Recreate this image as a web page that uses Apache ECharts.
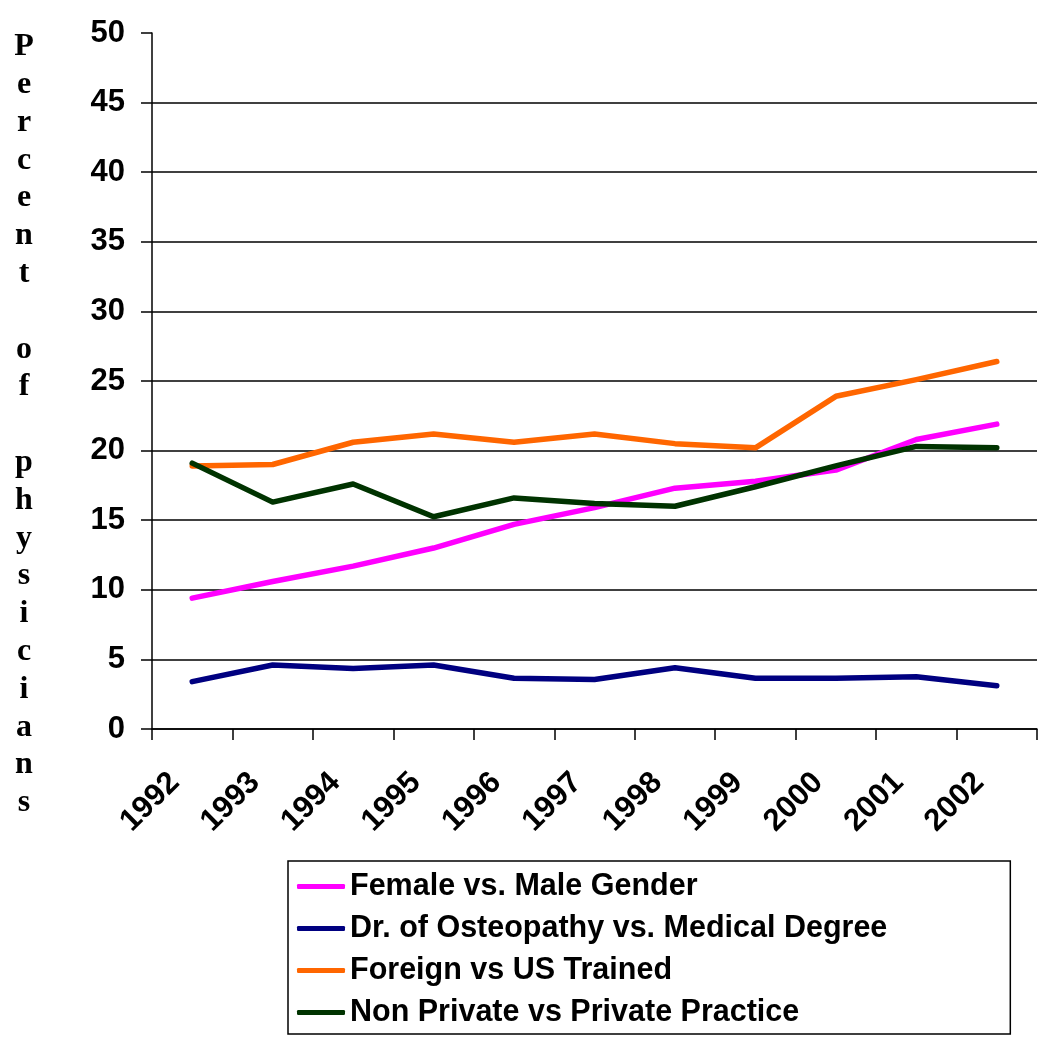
<!DOCTYPE html>
<html>
<head>
<meta charset="utf-8">
<script src="https://cdn.jsdelivr.net/npm/echarts@6/dist/echarts.min.js"></script>
<style>html,body{margin:0;padding:0;background:#fff;}#c{width:1050px;height:1040px;}</style>
</head>
<body>
<div id="c"></div>
<script>
var years = ['1992','1993','1994','1995','1996','1997','1998','1999','2000','2001','2002'];
var femaleVsMale = [9.4, 10.6, 11.7, 13.0, 14.7, 15.9, 17.3, 17.8, 18.6, 20.8, 21.9];
var doVsMd = [3.4, 4.6, 4.35, 4.6, 3.65, 3.55, 4.4, 3.65, 3.65, 3.75, 3.1];
var foreignVsUs = [18.9, 19.0, 20.6, 21.2, 20.6, 21.2, 20.5, 20.2, 23.9, 25.1, 26.4];
var nonPrivateVsPrivate = [19.1, 16.3, 17.6, 15.25, 16.6, 16.2, 16.0, 17.4, 18.9, 20.3, 20.2];
var seriesNames = ['Female vs. Male Gender', 'Dr. of Osteopathy vs. Medical Degree', 'Foreign vs US Trained', 'Non Private vs Private Practice'];
var yTitle = 'Percent of physicians';

var chart = echarts.init(document.getElementById('c'));
var font = 'Liberation Sans';
function mk(name, data, color) {
  return {
    name: name, type: 'line', data: data, symbol: 'none', smooth: false,
    lineStyle: { color: color, width: 5.5, cap: 'round', join: 'round' },
    itemStyle: { color: color },
    animation: false
  };
}
chart.setOption({
  backgroundColor: '#fff',
  animation: false,
  grid: { left: 152, right: 13, top: 33, bottom: 311, containLabel: false },
  graphic: [{
    type: 'text', x: 24, y: 28,
    style: {
      text: yTitle.split('').join('\n'),
      font: 'bold 32px "Liberation Serif"',
      lineHeight: 37.8,
      align: 'center',
      verticalAlign: 'top',
      fill: '#000'
    }
  }],
  xAxis: {
    type: 'category', data: years, boundaryGap: true,
    axisLine: { lineStyle: { color: '#000', width: 1.5 } },
    axisTick: { show: true, length: 11, alignWithLabel: false, lineStyle: { color: '#000', width: 1.5 } },
    axisLabel: { rotate: 45, margin: 31, padding: [0, 25, 0, 0], color: '#000', fontFamily: font, fontWeight: 'bold', fontSize: 31, interval: 0 },
    splitLine: { show: false }
  },
  yAxis: {
    type: 'value', min: 0, max: 50, interval: 5,
    axisLine: { show: true, lineStyle: { color: '#000', width: 1.5 } },
    axisTick: { show: true, length: 11, lineStyle: { color: '#000', width: 1.5 } },
    axisLabel: { margin: 27, color: '#000', fontFamily: font, fontWeight: 'bold', fontSize: 31 },
    splitLine: { show: true, showMaxLine: false, lineStyle: { color: '#000', width: 1.5 } }
  },
  legend: {
    orient: 'vertical', left: 288, top: 861,
    data: seriesNames,
    icon: 'roundRect', itemWidth: 48, itemHeight: 5, itemGap: 11,
    padding: [10, 123, 6, 9],
    borderColor: '#000', borderWidth: 1.5, borderRadius: 0,
    textStyle: { color: '#000', fontFamily: font, fontWeight: 'bold', fontSize: 30.5, lineHeight: 30 },
    selectedMode: false
  },
  series: [
    mk(seriesNames[0], femaleVsMale, '#FF00FF'),
    mk(seriesNames[1], doVsMd, '#000080'),
    mk(seriesNames[2], foreignVsUs, '#FF6600'),
    mk(seriesNames[3], nonPrivateVsPrivate, '#003300')
  ]
});
</script>
</body>
</html>
